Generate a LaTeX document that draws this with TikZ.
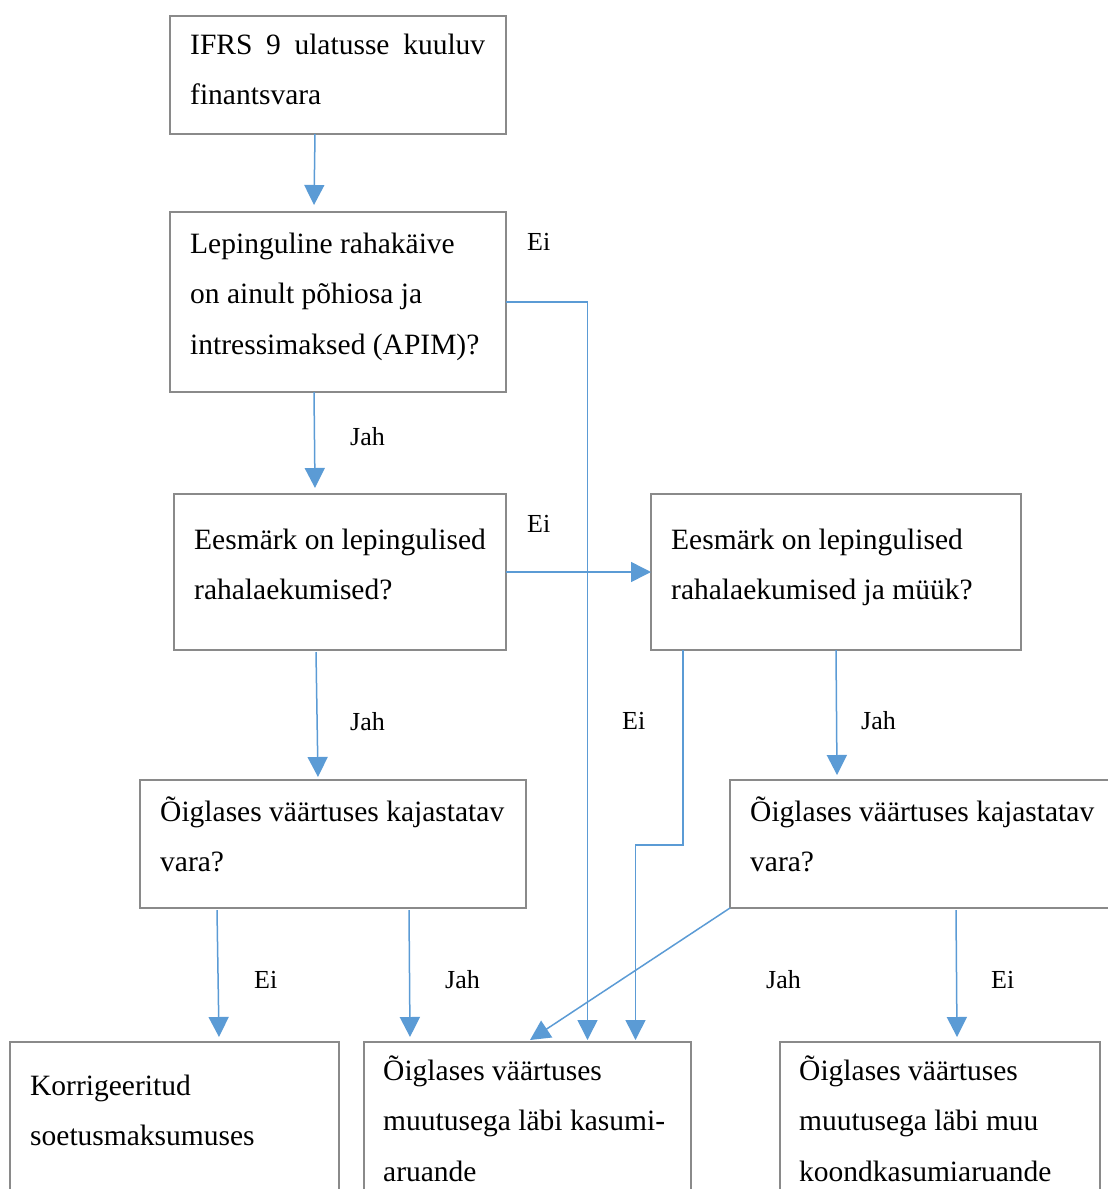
\documentclass[tikz,border=0pt]{standalone}
\usepackage{fontspec}
\setmainfont{Liberation Serif}
\usetikzlibrary{arrows.meta,calc}
\definecolor{arrblue}{HTML}{5B9BD5}
\definecolor{boxgray}{HTML}{8A8A8A}
\newcommand\vlines[1]{\vtop{\baselineskip=50.5pt\relax #1}}
\begin{document}
\begin{tikzpicture}[x=1pt,y=-1pt,
  box/.style={draw=boxgray,line width=2pt,inner sep=0pt,outer sep=0pt,anchor=north west},
  txt/.style={anchor=base west,inner sep=0pt,font=\fontsize{29.5pt}{50.5pt}\selectfont},
  lbl/.style={anchor=base west,inner sep=0pt,font=\fontsize{26pt}{30pt}\selectfont},
  arr/.style={draw=arrblue,line width=1.5pt,-{Triangle[width=20pt,length=20pt]}}]
\useasboundingbox (0,0) rectangle (1108,1189);
\clip (0,0) rectangle (1108,1189);
% boxes
\node[box,minimum width=336pt,minimum height=118pt] (b1) at (170,16) {};
\node[box,minimum width=336pt,minimum height=180pt] (b2) at (170,212) {};
\node[box,minimum width=332pt,minimum height=156pt] (b3) at (174,494) {};
\node[box,minimum width=370pt,minimum height=156pt] (b4) at (651,494) {};
\node[box,minimum width=386pt,minimum height=128pt] (b5) at (140,780) {};
\node[box,minimum width=390pt,minimum height=128pt] (b6) at (730,780) {};
\node[box,minimum width=329pt,minimum height=170pt] (b7) at (10,1042) {};
\node[box,minimum width=327pt,minimum height=170pt] (b8) at (364,1042) {};
\node[box,minimum width=320pt,minimum height=170pt] (b9) at (780,1042) {};
% texts
\node[txt] (t1) at (190,54) {\vlines{\hbox to 295pt{IFRS\hfill 9\hfill ulatusse\hfill kuuluv}\hbox{finantsvara}}};
\node[txt] (t2) at (190,253) {\vlines{\hbox{Lepinguline rahakäive}\hbox{on ainult põhiosa ja}\hbox{intressimaksed (APIM)?}}};
\node[txt] (t3) at (194,549) {\vlines{\hbox{Eesmärk on lepingulised}\hbox{rahalaekumised?}}};
\node[txt] (t4) at (671,549) {\vlines{\hbox{Eesmärk on lepingulised}\hbox{rahalaekumised ja müük?}}};
\node[txt] (t5) at (160,821) {\vlines{\hbox{Õiglases väärtuses kajastatav}\hbox{vara?}}};
\node[txt] (t6) at (750,821) {\vlines{\hbox{Õiglases väärtuses kajastatav}\hbox{vara?}}};
\node[txt] (t7) at (30,1095) {\vlines{\hbox{Korrigeeritud}\hbox{soetusmaksumuses}}};
\node[txt] (t8) at (383,1080) {\vlines{\hbox{Õiglases väärtuses}\hbox{muutusega läbi kasumi-}\hbox{aruande}}};
\node[txt] (t9) at (799,1080) {\vlines{\hbox{Õiglases väärtuses}\hbox{muutusega läbi muu}\hbox{koondkasumiaruande}}};
% labels
\node[lbl] (l1) at (527,250) {Ei};
\node[lbl] (l2) at (350,445) {Jah};
\node[lbl] (l3) at (527,532) {Ei};
\node[lbl] (l4) at (350,730) {Jah};
\node[lbl] (l5) at (622,729) {Ei};
\node[lbl] (l6) at (861,729) {Jah};
\node[lbl] (l7) at (254,988) {Ei};
\node[lbl] (l8) at (445,988) {Jah};
\node[lbl] (l9) at (766,988) {Jah};
\node[lbl] (l10) at (991,988) {Ei};
% arrows
\draw[arr] ($(b1.south)+(-23,0)$) -- ($(b2.north)+(-24,-7)$);
\draw[arr] ($(b2.south)+(-24,0)$) -- ($(b3.north)+(-25,-6)$);
\draw[arr] (b2.east) -| ($(b8.north)+(60,-2)$);
\draw[arr] (b3.east) -- (b4.west);
\draw[arr] ($(b3.south)+(-24,2)$) -- ($(b5.north)+(-15,-3)$);
\draw[arr] ($(b4.south)+(-153,0)$) -- ++(0,195) -| ($(b8.north)+(108,-2)$);
\draw[arr] ($(b4.south)+(0,0)$) -- ($(b6.north)+(-88,-5)$);
\draw[arr] ($(b5.south)+(-116,2)$) -- ($(b7.north)+(44.5,-5)$);
\draw[arr] ($(b5.south)+(76,2)$) -- ($(b8.north)+(-117.5,-5)$);
\draw[arr] (b6.south west) -- ($(b8.north)+(2.5,-2)$);
\draw[arr] ($(b6.south)+(31,2)$) -- ($(b9.north)+(17,-5)$);
\end{tikzpicture}
\end{document}
